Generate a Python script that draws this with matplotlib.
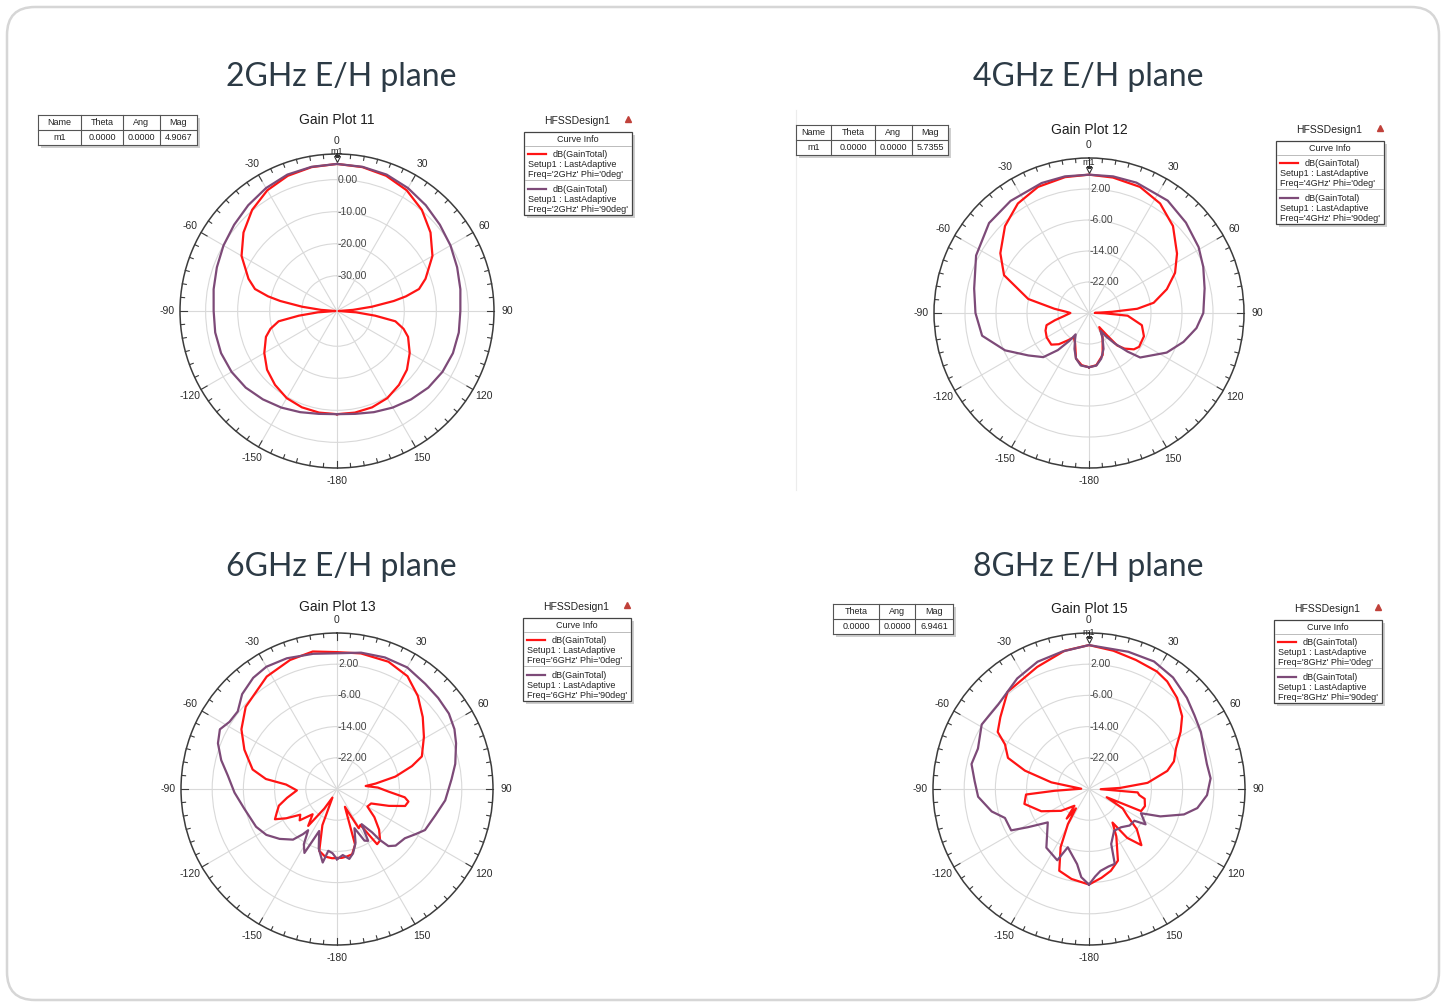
import numpy as np
import matplotlib.pyplot as plt
from matplotlib.patches import FancyBboxPatch, Rectangle
from matplotlib.transforms import offset_copy

# gain patterns (theta in deg, gain in dB), Phi=0 and Phi=90 cuts
theta_2g_phi0 = [-180, -170, -160, -150, -140, -130, -120, -110, -105, -100, -97, -94, -90, -86, -83, -80, -78, -75, -70, -60, -50, -40, -30, -20, -10,
                 0, 10, 20, 30, 40, 50, 60, 70, 75, 78, 80, 83, 86, 90, 94, 97, 100, 105, 110, 120, 130, 140, 150, 160, 170, 180]
gain_2g_phi0 = [-8.8, -8.8, -9.0, -9.6, -10.9, -12.5, -14.8, -17.4, -19.5, -22.5, -29.0, -35.0, -40.5, -36.0, -30.0, -23.0, -19.0, -14.5, -11.6, -6.6, -2.9, 0.2, 2.5, 3.9, 4.6,
                4.9, 4.6, 3.9, 2.5, 0.2, -2.9, -6.6, -11.6, -14.5, -19.0, -23.0, -30.0, -36.0, -40.5, -35.0, -29.0, -22.5, -19.5, -17.4, -14.8, -12.5, -10.9, -9.6, -9.0, -8.8, -8.8]
theta_2g_phi90 = [-180, -170, -160, -150, -140, -130, -120, -110, -100, -90, -80, -70, -60, -50, -40, -30, -20, -10,
                  0, 10, 20, 30, 40, 50, 60, 70, 80, 90, 100, 110, 120, 130, 140, 150, 160, 170, 180]
gain_2g_phi90 = [-8.8, -8.4, -7.4, -6.2, -5.0, -3.8, -3.0, -2.5, -2.4, -2.5, -1.9, -1.1, -0.1, 0.9, 2.1, 3.3, 4.3, 4.7,
                 4.9, 4.7, 4.3, 3.3, 2.1, 0.9, -0.1, -1.1, -1.9, -2.5, -2.4, -2.5, -3.0, -3.8, -5.0, -6.2, -7.4, -8.4, -8.8]

theta_4g_phi0 = [-180, -172, -164, -155, -148, -142, -136, -130, -120, -112, -106, -102, -97, -93, -90, -88, -83, -77, -66, -56, -44, -33, -22, -10,
                 0, 10, 22, 33, 44, 56, 65, 73, 81, 85, 87, 89, 91, 94, 103, 113, 124, 129, 135, 139, 141, 144, 150, 157, 162, 172, 180]
gain_4g_phi0 = [-16.0, -16.4, -17.8, -21.5, -22.6, -21.0, -18.8, -17.3, -17.4, -17.9, -18.6, -21.0, -23.5, -24.6, -25.2, -24.6, -21.0, -13.9, -6.0, -2.4, 1.2, 3.7, 5.1, 5.6,
                5.7, 5.5, 5.1, 3.7, 1.2, -2.6, -5.5, -9.0, -13.1, -17.5, -24.0, -28.5, -26.0, -20.0, -16.0, -14.6, -14.4, -15.1, -17.0, -18.9, -22.5, -25.5, -23.0, -21.0, -18.6, -16.4, -16.0]
theta_4g_phi90 = [-180, -171, -164, -158, -153, -148, -145, -140, -134, -125, -114, -102, -90, -78, -63, -48, -35, -20, -10,
                  0, 10, 20, 35, 47, 59, 68, 78, 90, 98, 107, 117, 123, 131, 135, 140, 144, 147, 152, 158, 165, 172, 180]
gain_4g_phi90 = [-16.0, -16.3, -17.8, -20.0, -22.0, -23.5, -21.3, -17.5, -13.6, -10.9, -6.3, -1.8, -0.7, 0.3, 2.7, 4.7, 5.3, 5.7, 5.8,
                 5.7, 5.8, 5.8, 5.4, 4.2, 3.0, 1.8, 0.5, -0.5, -2.0, -4.5, -7.5, -10.1, -12.5, -15.9, -19.8, -22.5, -24.5, -22.5, -20.0, -17.8, -16.3, -16.0]

theta_6g_phi0 = [-180, -176, -170, -164, -158, -152, -147, -142, -136, -130, -125, -120, -116, -111, -106, -100, -92, -85, -82, -77,
                 -67, -58, -48, -32, -20, -10, 0, 10, 22, 32, 41, 50, 59, 69, 73, 78, 82, 84, 88, 93,
                 97, 100, 104, 108, 113, 120, 127, 134, 140, 144, 147, 151, 156, 162, 167, 172, 176, 180]
gain_6g_phi0 = [-12.3, -12.2, -12.4, -13.5, -20.0, -27.5, -24.0, -18.0, -21.0, -17.5, -18.5, -15.0, -12.3, -13.5, -14.5, -17.0, -19.7, -16.9, -11.6, -7.8,
                -4.2, -1.1, 1.5, 4.0, 5.2, 5.8, 5.1, 5.3, 5.2, 4.1, 1.6, -1.3, -4.0, -6.7, -9.9, -14.7, -20.0, -22.6, -19.5, -16.7,
                -12.5, -11.4, -12.0, -16.0, -20.5, -21.0, -18.0, -15.0, -12.8, -12.5, -19.0, -18.5, -25.0, -15.0, -12.8, -12.5, -12.3, -12.3]
theta_6g_phi90 = [-180, -176, -172, -169, -163, -157, -153, -149, -145, -143, -139, -131, -123, -115, -102, -92, -83, -76, -69, -63,
                  -58, -52, -45, -37, -30, -21, -10, 0, 10, 20, 30, 40, 48, 56, 63, 69, 78, 85, 96, 105,
                  115, 120, 126, 134, 138, 140, 141, 145, 149, 152, 156, 161, 166, 170, 175, 180]
gain_6g_phi90 = [-12.0, -13.5, -14.0, -10.8, -14.0, -18.3, -11.6, -13.5, -17.1, -15.5, -12.8, -10.5, -8.4, -7.1, -5.7, -3.7, -1.8, 0.6, 2.7, 3.7,
                 2.5, 2.3, 4.4, 5.7, 6.2, 5.9, 5.2, 4.8, 5.5, 5.9, 6.0, 5.2, 4.9, 4.6, 3.8, 2.7, 1.0, -0.5, -2.1, -3.9,
                 -5.1, -6.8, -8.5, -9.1, -10.3, -13.0, -15.7, -19.0, -14.5, -15.0, -19.0, -15.4, -13.0, -11.8, -13.0, -12.0]

theta_8g_phi0 = [-180, -169, -160, -154, -149, -146, -143, -139, -128, -115, -103, -95, -93, -88, -80, -74, -69, -62, -58, -51,
                 -40, -23, -10, 0, 10, 20, 30, 36, 44, 52, 58, 65, 72, 77, 84, 88, 91, 94, 97, 100,
                 107, 113, 115, 120, 125, 130, 137, 142, 145, 150, 158, 165, 172, 180]
gain_8g_phi0 = [-5.5, -6.5, -7.7, -13.4, -19.5, -24.0, -20.5, -24.3, -20.9, -16.5, -13.0, -13.8, -21.1, -28.0, -20.2, -12.9, -7.75, -5.6, -2.4, -0.75,
                2.5, 4.0, 6.0, 6.9, 6.0, 5.2, 4.8, 4.1, 2.5, 0.3, -2.3, -5.4, -7.1, -9.4, -14.9, -22.0, -27.0, -17.5, -17.0, -15.5,
                -15.0, -15.5, -25.0, -20.0, -18.0, -14.0, -10.3, -14.1, -19.5, -16.0, -10.2, -8.3, -7.0, -5.5]
theta_8g_phi90 = [-180, -175, -171, -160, -156, -144, -129, -122, -118, -109, -103, -94, -86, -78, -70, -59, -47, -33, -22, -11,
                  0, 16, 27, 37, 47, 55, 63, 70, 78, 85, 93, 100, 105, 111, 115, 122, 125, 132, 140, 149,
                  158, 161, 166, 172, 176, 180]
gain_8g_phi90 = [-5.5, -7.3, -10.5, -14.1, -10.0, -11.4, -16.4, -11.5, -7.4, -7.2, -4.4, -1.5, -0.6, 0.8, 0.3, 2.1, 1.8, 3.8, 5.2, 5.9,
                 6.9, 6.6, 6.7, 5.8, 4.3, 3.0, 2.2, 1.3, 0.9, 1.3, 0.3, -1.8, -4.8, -10.4, -15.3, -12.9, -15.8, -16.0, -17.2, -17.5,
                 -14.8, -9.7, -9.5, -8.8, -7.5, -5.5]

freqs = ["2GHz", "4GHz", "6GHz", "8GHz"]
plot_names = ["Gain Plot 11", "Gain Plot 12", "Gain Plot 13", "Gain Plot 15"]
marker_mag = [4.9067, 5.7355, None, 6.9461]
ring_values = [[-30, -20, -10, 0], [-22, -14, -6, 2], [-22, -14, -6, 2], [-22, -14, -6, 2]]
r_limits = [(-41, 8), (-30, 10), (-30, 10), (-30, 10)]
theta_names = ["0", "30", "60", "90", "120", "150", "-180", "-150", "-120", "-90", "-60", "-30"]

patterns = [
    (theta_2g_phi0, gain_2g_phi0, theta_2g_phi90, gain_2g_phi90),
    (theta_4g_phi0, gain_4g_phi0, theta_4g_phi90, gain_4g_phi90),
    (theta_6g_phi0, gain_6g_phi0, theta_6g_phi90, gain_6g_phi90),
    (theta_8g_phi0, gain_8g_phi0, theta_8g_phi90, gain_8g_phi90),
]

# layout in pixels
W, H = 1446, 1005
centers = [(337, 311), (1089, 313), (337, 789), (1089, 789)]
radii = [157, 155, 156, 156]
heading_pos = [(341, 77), (1088, 77), (341, 567), (1088, 567)]
title_y = [120, 130, 607, 609]
legend_xy = [(524, 132), (1276, 141), (523, 618), (1274, 620)]

RED = "#ff1414"
PURPLE = "#7d4a78"
ARIAL = "Liberation Sans"

fig = plt.figure(figsize=(W / 100, H / 100), dpi=100)
bg = fig.add_axes([0, 0, 1, 1])
bg.set_xlim(0, W)
bg.set_ylim(H, 0)
bg.axis("off")

card = FancyBboxPatch((7, 7), W - 14, H - 12, boxstyle="round,pad=0,rounding_size=28",
                      fc="white", ec="#d6d6d6", lw=1.8)
bg.add_patch(card)
bg.plot([796, 796], [110, 490], color="#ececec", lw=0.8)


def marker_table(x_edges, y0, header, row, left_open=False):
    h = 30
    x0, x1 = x_edges[0], x_edges[-1]
    bg.add_patch(Rectangle((x0 + 3, y0 + 3), x1 - x0, h, fc="#cfcfcf", ec="none"))
    bg.add_patch(Rectangle((x0, y0), x1 - x0, h, fc="white", ec="none"))
    for y in (y0, y0 + h / 2, y0 + h):
        bg.plot([x0, x1], [y, y], color="#555555", lw=0.8)
    edges = x_edges[1:] if left_open else x_edges
    for x in edges:
        bg.plot([x, x], [y0, y0 + h], color="#555555", lw=0.8)
    for i, (a, b) in enumerate(zip(header, row)):
        xc = (x_edges[i] + x_edges[i + 1]) / 2
        bg.text(xc, y0 + 7.5, a, ha="center", va="center", fontsize=6.5, family=ARIAL, color="#222222")
        bg.text(xc, y0 + 22.5, b, ha="center", va="center", fontsize=6.5, family=ARIAL, color="#222222")


def curve_info(x0, y0, freq):
    w, h = 108, 83
    bg.text(x0 + 53, y0 - 11, "HFSSDesign1", ha="center", va="center", fontsize=7.5, family=ARIAL, color="#222222")
    bg.plot(x0 + 104, y0 - 13, marker="^", ms=5, color="#c0413a")
    bg.add_patch(Rectangle((x0 + 3, y0 + 3), w, h, fc="#cfcfcf", ec="none"))
    bg.add_patch(Rectangle((x0, y0), w, h, fc="white", ec="#444444", lw=0.9))
    bg.text(x0 + w / 2, y0 + 7, "Curve Info", ha="center", va="center", fontsize=6.5, family=ARIAL, color="#222222")
    bg.plot([x0 + 1, x0 + w - 1], [y0 + 14, y0 + 14], color="#bbbbbb", lw=0.7)
    bg.plot([x0 + 1, x0 + w - 1], [y0 + 48, y0 + 48], color="#bbbbbb", lw=0.7)
    for k, (col, phi) in enumerate([(RED, "0deg"), (PURPLE, "90deg")]):
        yb = y0 + 22 + 35 * k
        bg.plot([x0 + 4, x0 + 22], [yb, yb], color=col, lw=1.6)
        bg.text(x0 + 29, yb, "dB(GainTotal)", ha="left", va="center", fontsize=6.5, family=ARIAL, color="#222222")
        bg.text(x0 + 4, yb + 10, "Setup1 : LastAdaptive", ha="left", va="center", fontsize=6.5, family=ARIAL, color="#222222")
        bg.text(x0 + 4, yb + 20, f"Freq='{freq}' Phi='{phi}'", ha="left", va="center", fontsize=6.5, family=ARIAL, color="#222222")


for i in range(4):
    cx, cy = centers[i]
    R = radii[i]
    rmin, rmax = r_limits[i]
    hx, hy = heading_pos[i]
    bg.text(hx, hy, f"{freqs[i]} E/H plane", ha="center", va="center", fontsize=23,
            family="Lato", color="#2c3a45")
    bg.text(cx, title_y[i], plot_names[i], ha="center", va="center", fontsize=10, family=ARIAL, color="#1e1e1e")
    curve_info(*legend_xy[i], freqs[i])

    ax = fig.add_axes([(cx - R) / W, 1 - (cy + R) / H, 2 * R / W, 2 * R / H], projection="polar")
    ax.set_facecolor("none")
    ax.set_theta_zero_location("N")
    ax.set_theta_direction(-1)
    ax.set_ylim(rmin, rmax)
    ax.set_thetagrids(np.arange(0, 360, 30), theta_names, fontsize=7.5, family=ARIAL, color="#2a2a2a")
    ax.set_rgrids(ring_values[i], labels=[""] * len(ring_values[i]))
    ax.grid(color="#d9d9d9", lw=0.8)
    ax.tick_params(axis="x", length=0, pad=2.5)
    ax.spines["polar"].set_color("#3c3c3c")
    ax.spines["polar"].set_linewidth(1.1)

    # ring ticks every 5 degrees
    px = (rmax - rmin) / R
    for t in range(0, 360, 5):
        ln = 7 if t % 30 == 0 else 4
        ax.plot([np.deg2rad(t)] * 2, [rmax - ln * px, rmax], color="#3c3c3c", lw=0.8, clip_on=False)

    lab_tr = offset_copy(ax.transData, fig=fig, x=1, y=0, units="dots")
    for r in ring_values[i]:
        ax.text(0, r, f"{r:.2f}", transform=lab_tr, ha="left", va="center", fontsize=7.5,
                family=ARIAL, color="#444444")

    th0, g0, th90, g90 = patterns[i]
    ax.plot(np.deg2rad(th0), g0, color=RED, lw=1.6)
    ax.plot(np.deg2rad(th90), g90, color=PURPLE, lw=1.6)

    if marker_mag[i] is not None:
        mtr = offset_copy(ax.transData, fig=fig, x=0, y=5, units="dots")
        ax.plot(0, marker_mag[i], marker="v", ms=5, mfc="white", mec="#333333", mew=0.8, transform=mtr)
        ttr = offset_copy(ax.transData, fig=fig, x=0, y=12, units="dots")
        ax.text(0, marker_mag[i], "m1", transform=ttr, ha="center", va="center", fontsize=6.5,
                family=ARIAL, color="#222222")

marker_table([38, 81, 123, 160, 197], 115, ["Name", "Theta", "Ang", "Mag"], ["m1", "0.0000", "0.0000", "4.9067"])
marker_table([796, 831, 875, 912, 948], 125, ["Name", "Theta", "Ang", "Mag"], ["m1", "0.0000", "0.0000", "5.7355"])
marker_table([833, 879, 915, 953], 604, ["Theta", "Ang", "Mag"], ["0.0000", "0.0000", "6.9461"])

fig.savefig("out.png", dpi=100)
